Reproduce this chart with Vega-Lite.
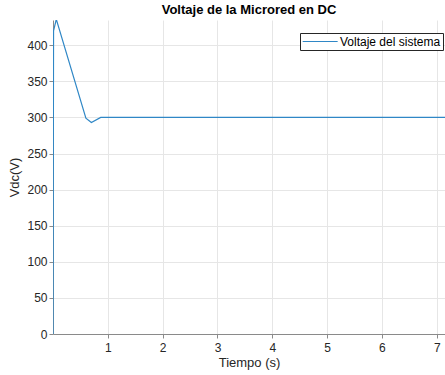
{
  "$schema": "https://vega.github.io/schema/vega-lite/v6.json",
  "autosize": "none",
  "width": 392,
  "height": 314,
  "padding": {"left": 53, "top": 20, "right": 0, "bottom": 41},
  "background": "white",
  "title": {"text": "Voltaje de la Microred en DC", "font": "Liberation Sans", "fontSize": 13, "fontWeight": "bold", "color": "black", "offset": 3, "anchor": "middle"},
  "config": {
    "view": {"stroke": null},
    "axis": {"labelFont": "Liberation Sans", "titleFont": "Liberation Sans", "labelFontSize": 12, "titleFontSize": 13, "titleFontWeight": "normal", "labelColor": "#262626", "titleColor": "#262626", "domainColor": "#8a8a8a", "tickColor": "#8a8a8a", "gridColor": "#e6e6e6", "gridOpacity": 1}
  },
  "data": {"values": [
    {"t": 0, "v": 0, "s": "Voltaje del sistema"},
    {"t": 0.01, "v": 420, "s": "Voltaje del sistema"},
    {"t": 0.06, "v": 436, "s": "Voltaje del sistema"},
    {"t": 0.6, "v": 299, "s": "Voltaje del sistema"},
    {"t": 0.7, "v": 293, "s": "Voltaje del sistema"},
    {"t": 0.87, "v": 300, "s": "Voltaje del sistema"},
    {"t": 7.2, "v": 300, "s": "Voltaje del sistema"}
  ]},
  "mark": {"type": "line", "strokeWidth": 1.2, "clip": true},
  "encoding": {
    "x": {"field": "t", "type": "quantitative", "scale": {"domain": [0, 7.15], "nice": false, "zero": false},
      "axis": {"title": "Tiempo (s)", "values": [1, 2, 3, 4, 5, 6, 7], "tickSize": 4, "labelPadding": 4, "titlePadding": 3}},
    "y": {"field": "v", "type": "quantitative", "scale": {"domain": [0, 435], "nice": false},
      "axis": {"title": "Vdc(V)", "values": [0, 50, 100, 150, 200, 250, 300, 350, 400], "tickSize": 4, "labelPadding": 2, "titlePadding": 5}},
    "color": {"field": "s", "type": "nominal", "scale": {"range": ["#2f87c6"]},
      "legend": {"title": null, "orient": "none", "legendX": 247, "legendY": 13, "symbolType": "M-1,0H5", "symbolSize": 136, "symbolStrokeWidth": 1.2, "symbolStrokeColor": "#2f87c6", "labelFont": "Liberation Sans", "labelFontSize": 12, "labelColor": "black", "strokeColor": "#262626", "fillColor": "white", "padding": 2, "labelOffset": 25}}
  }
}
